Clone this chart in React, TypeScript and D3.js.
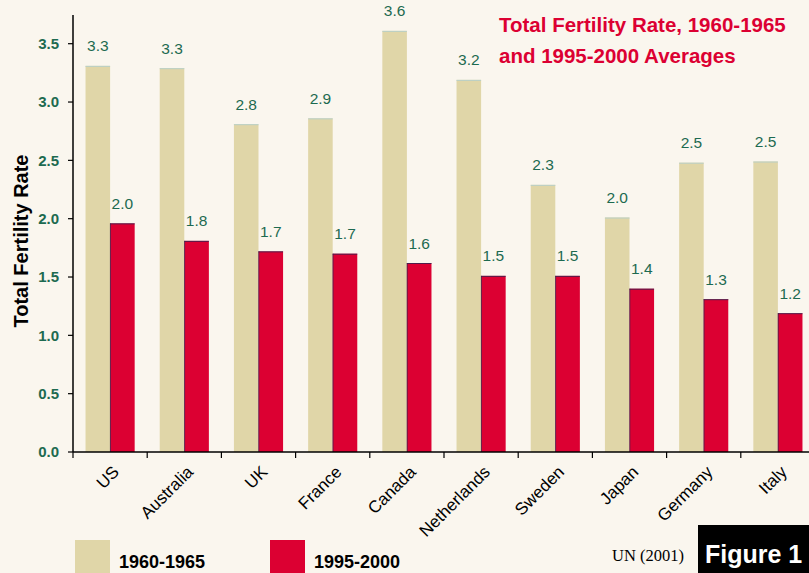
import * as d3 from 'd3';

const countries = ['US', 'Australia', 'UK', 'France', 'Canada', 'Netherlands', 'Sweden', 'Japan', 'Germany', 'Italy'];
const rate1960 = [3.31, 3.29, 2.81, 2.86, 3.61, 3.19, 2.29, 2.01, 2.48, 2.49];
const rate1995 = [1.96, 1.81, 1.72, 1.70, 1.62, 1.51, 1.51, 1.40, 1.31, 1.19];
const yTicks = [0, 0.5, 1.0, 1.5, 2.0, 2.5, 3.0, 3.5];
const seriesNames = ['1960-1965', '1995-2000'];

const W = 809;
const H = 573;
const BG = '#faf6ee';
const TAN = '#e0d6a8';
const RED = '#dc0032';
const GREEN = '#1d6a50';
const NARROW = '"Liberation Sans Narrow", "Arial Narrow", Arial, sans-serif';
const SANS = 'Arial, "Liberation Sans", Helvetica, sans-serif';

const App = () => {
  const x0 = 73;
  const step = 74.2;
  const yZero = 452;

  const x = d3.scaleBand<string>()
    .domain(countries)
    .range([x0, x0 + step * countries.length])
    .padding(0);

  const xSub = d3.scaleBand<string>()
    .domain(['a', 'b'])
    .range([0, step])
    .paddingInner(0)
    .paddingOuter(0.51);

  const y = d3.scaleLinear().domain([0, 3.5]).range([yZero, yZero - 408.3]);

  const fmt = d3.format('.1f');

  return (
    <div style={{ position: 'absolute', left: 0, top: 0 }}>
      <svg width={W} height={H} style={{ display: 'block', background: BG }}>
        <rect x={0} y={0} width={W} height={H} fill={BG} />

        {/* title */}
        <text x={499} y={32} fill={RED} fontFamily={SANS} fontWeight="bold" fontSize={20.5}>
          Total Fertility Rate, 1960-1965
        </text>
        <text x={499} y={63} fill={RED} fontFamily={SANS} fontWeight="bold" fontSize={20.5}>
          and 1995-2000 Averages
        </text>

        {/* y axis title */}
        <text
          transform={`translate(28, 241) rotate(-90)`}
          textAnchor="middle"
          fontFamily={SANS}
          fontWeight="bold"
          fontSize={20}
          fill="#000"
        >
          Total Fertility Rate
        </text>

        {/* bars */}
        {countries.map((c, i) => {
          const bx = x(c)!;
          const xa = bx + xSub('a')!;
          const xb = bx + xSub('b')!;
          const bw = xSub.bandwidth();
          return (
            <g key={c}>
              <rect x={xa} y={y(rate1960[i])} width={bw} height={yZero - y(rate1960[i])} fill={TAN} />
              <line x1={xa} x2={xa + bw} y1={y(rate1960[i]) + 0.5} y2={y(rate1960[i]) + 0.5} stroke="#b8cfc8" strokeWidth={1} />
              <rect x={xb} y={y(rate1995[i])} width={bw} height={yZero - y(rate1995[i])} fill={RED} />
              <line x1={xb + 0.3} x2={xb + 0.3} y1={y(rate1995[i])} y2={yZero} stroke="#2b2550" strokeWidth={0.7} />
              <line x1={xb} x2={xb + bw} y1={y(rate1995[i]) + 0.5} y2={y(rate1995[i]) + 0.5} stroke="#2b2550" strokeWidth={0.8} />
              <text x={xa + bw / 2} y={y(rate1960[i]) - 14.5} textAnchor="middle" fill={GREEN} fontFamily={SANS} fontSize={15.5}>
                {fmt(rate1960[i])}
              </text>
              <text x={xb + bw / 2} y={y(rate1995[i]) - 14.5} textAnchor="middle" fill={GREEN} fontFamily={SANS} fontSize={15.5}>
                {fmt(rate1995[i])}
              </text>
            </g>
          );
        })}

        {/* y axis */}
        <line x1={x0} x2={x0} y1={15} y2={yZero} stroke="#000" strokeWidth={1.5} />
        {yTicks.map(t => (
          <g key={t}>
            <line x1={x0 - 5} x2={x0} y1={y(t)} y2={y(t)} stroke="#000" strokeWidth={1.2} />
            <text
              x={x0 - 14}
              y={y(t)}
              dy="0.35em"
              textAnchor="end"
              fill={GREEN}
              fontFamily={NARROW}
              fontWeight="bold"
              fontSize={15}
            >
              {fmt(t)}
            </text>
          </g>
        ))}

        {/* x axis */}
        <line x1={x0} x2={W} y1={yZero} y2={yZero} stroke="#000" strokeWidth={1.5} />
        {d3.range(countries.length + 1).map(k => (
          <line
            key={k}
            x1={x0 + k * step}
            x2={x0 + k * step}
            y1={yZero}
            y2={yZero + 6}
            stroke="#000"
            strokeWidth={1.2}
          />
        ))}
        {countries.map(c => (
          <text
            key={c}
            transform={`translate(${x(c)! + x.bandwidth() / 2 + 10}, ${yZero + 21}) rotate(-45)`}
            textAnchor="end"
            fontFamily={SANS}
            fontSize={17}
            fill="#000"
          >
            {c}
          </text>
        ))}

        {/* legend */}
        {seriesNames.map((s, i) => {
          const lx = i === 0 ? 75 : 270;
          return (
            <g key={s}>
              <rect x={lx} y={540} width={35} height={40} fill={i === 0 ? TAN : RED} />
              <text x={lx + 44} y={568} fontFamily={NARROW} fontWeight="bold" fontSize={18} fill="#000">
                {s}
              </text>
            </g>
          );
        })}

        <text x={612} y={561} fontFamily='"Liberation Serif", "Times New Roman", serif' fontSize={16.5} fill="#000">
          UN (2001)
        </text>
        <rect x={698} y={525} width={W - 698} height={H - 525} fill="#000" />
        <text x={705} y={563} fontFamily={SANS} fontWeight="bold" fontSize={25} fill="#fff">
          Figure 1
        </text>
      </svg>
    </div>
  );
};

export default App;
